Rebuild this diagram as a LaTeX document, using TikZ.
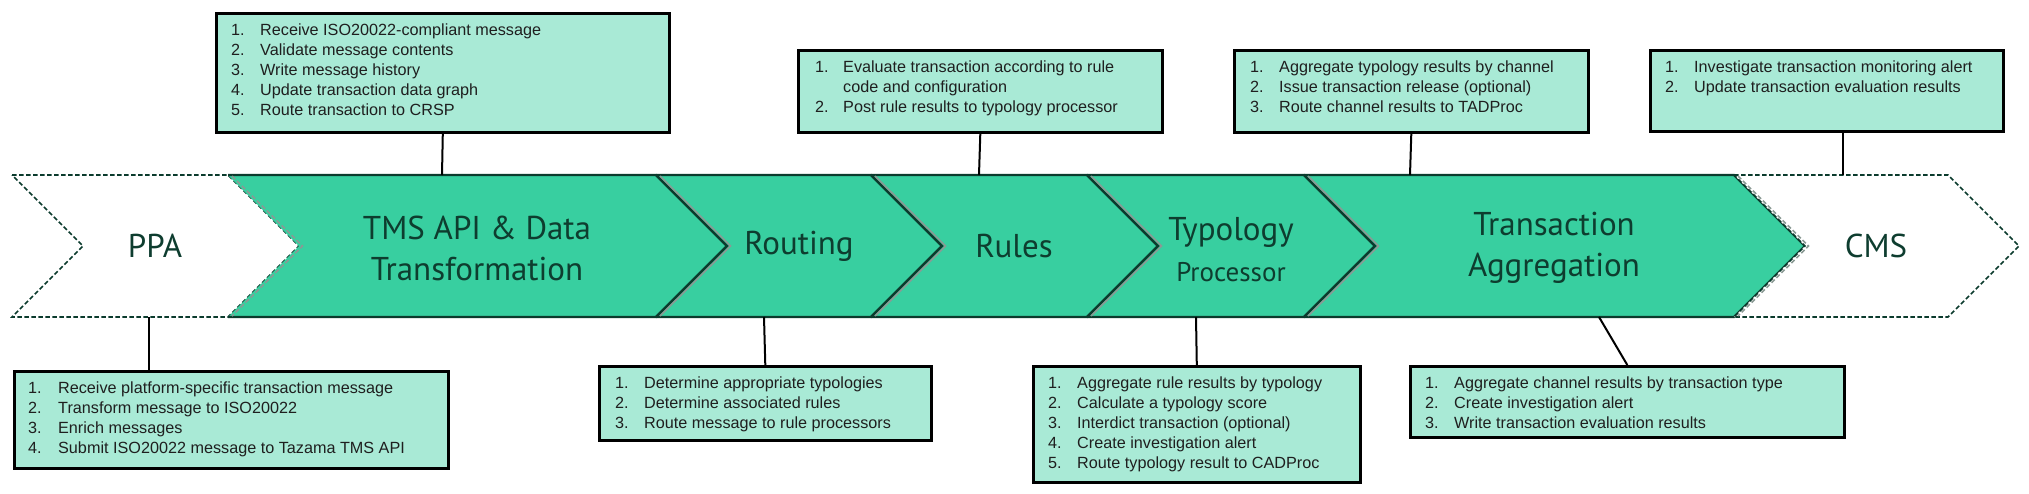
\documentclass[tikz,border=0pt]{standalone}
\usepackage{fontspec}
\setmainfont{Liberation Sans}
\newfontfamily\chevfont{PT Sans}
\definecolor{chevfill}{HTML}{38CFA0}
\definecolor{chevline}{HTML}{0B3B2D}
\definecolor{chevtext}{HTML}{0E3D2F}
\definecolor{boxfill}{HTML}{A9EAD6}
\definecolor{bevel}{HTML}{8A9A94}
\begin{document}
\begin{tikzpicture}[x=1pt,y=-1pt,
  chev/.style={fill=chevfill, draw=none},
  chevedge/.style={draw=chevline, line width=2.2pt, line join=miter},
  beveledge/.style={draw=bevel, line width=1.6pt},
  ghost/.style={fill=white, draw=chevline, line width=1.6pt, dash pattern=on 4.5pt off 2.5pt},
  infobox/.style={draw=black, line width=2.6pt, fill=boxfill, rectangle, inner sep=0pt, anchor=north west},
  listtext/.style={anchor=base west, inner sep=0pt, text=black!88, font=\fontsize{16.2}{20}\selectfont},
  ctitle/.style={text=chevtext, align=center, inner sep=0pt, font=\chevfont\fontsize{33}{41}\selectfont},
  link/.style={draw=black, line width=2pt}]
\useasboundingbox (0,0) rectangle (2029,493);
\fill[white] (0,0) rectangle (2029,493);

% PPA (dashed, white)
\draw[ghost] (12,175) -- (228,175) -- (299,246) -- (228,317) -- (12,317) -- (83,246) -- cycle;

% green chevrons
\foreach \L/\R [count=\i] in {228/656, 656/871, 871/1087, 1087/1304, 1304/1734}{
  \fill[chev] (\L,175) -- (\R,175) -- (\R+71,246) -- (\R,317) -- (\L,317) -- (\L+71,246) -- cycle;
}
\foreach \L/\R [count=\i] in {228/656, 656/871, 871/1087, 1087/1304, 1304/1734}{
  \draw[chevedge] (\L,175) -- (\R,175) -- (\R+71,246) -- (\R,317) -- (\L,317);
}
\foreach \L in {656, 871, 1087, 1304}{
  \draw[chevedge] (\L,175) -- (\L+71,246) -- (\L,317);
  \draw[beveledge] (\L+4,176) -- (\L+74.5,246) -- (\L+4,316);
}
\draw[beveledge, dash pattern=on 4.5pt off 2.5pt] (232,176) -- (302.5,246) -- (232,316);

% CMS (dashed, white)
\draw[ghost] (1734,175) -- (1948,175) -- (2019,246) -- (1948,317) -- (1734,317) -- (1805,246) -- cycle;
\draw[beveledge, dash pattern=on 4.5pt off 2.5pt] (1738,176) -- (1808.5,246) -- (1738,316);

% chevron titles
\node[ctitle] (nPPA) at (155,246) {PPA};
\node[ctitle] (nTMS) at (477,248) {TMS API \& Data\\Transformation};
\node[ctitle] (nRouting) at (799,246) {Routing};
\node[ctitle] (nRules) at (1014,246) {Rules};
\node[ctitle] (nTypology) at (1231,250) {Typology\\{\fontsize{27}{36}\selectfont Processor}};
\node[ctitle] (nTA) at (1554,248) {Transaction\\Aggregation};
\node[ctitle] (nCMS) at (1876,246) {CMS};

% info boxes
\node[infobox, minimum width=453pt, minimum height=119pt] (bTMS) at (215,12) {};
\node[infobox, minimum width=364pt, minimum height=82pt] (bRules) at (797,49) {};
\node[infobox, minimum width=354pt, minimum height=82pt] (bTAtop) at (1233,49) {};
\node[infobox, minimum width=353pt, minimum height=81pt] (bCMS) at (1649,49) {};
\node[infobox, minimum width=434pt, minimum height=97pt] (bPPA) at (13,370) {};
\node[infobox, minimum width=332pt, minimum height=74pt] (bRouting) at (598,365) {};
\node[infobox, minimum width=327pt, minimum height=116pt] (bTypology) at (1032,365) {};
\node[infobox, minimum width=434pt, minimum height=71pt] (bTAbot) at (1409,365) {};

% list texts
\node[listtext] (lTMS) at (231,35) {\begin{tabular}[t]{@{}p{29pt}@{}l@{}}
1. & Receive ISO20022-compliant message\\
2. & Validate message contents\\
3. & Write message history\\
4. & Update transaction data graph\\
5. & Route transaction to CRSP
\end{tabular}};
\node[listtext] (lRules) at (815,72) {\begin{tabular}[t]{@{}p{28pt}@{}l@{}}
1. & Evaluate transaction according to rule\\
 & code and configuration\\
2. & Post rule results to typology processor
\end{tabular}};
\node[listtext] (lTAtop) at (1250,72) {\begin{tabular}[t]{@{}p{29pt}@{}l@{}}
1. & Aggregate typology results by channel\\
2. & Issue transaction release (optional)\\
3. & Route channel results to TADProc
\end{tabular}};
\node[listtext] (lCMS) at (1665,72) {\begin{tabular}[t]{@{}p{29pt}@{}l@{}}
1. & Investigate transaction monitoring alert\\
2. & Update transaction evaluation results
\end{tabular}};
\node[listtext] (lPPA) at (28,393) {\begin{tabular}[t]{@{}p{30pt}@{}l@{}}
1. & Receive platform-specific transaction message\\
2. & Transform message to ISO20022\\
3. & Enrich messages\\
4. & Submit ISO20022 message to Tazama TMS API
\end{tabular}};
\node[listtext] (lRouting) at (615,388) {\begin{tabular}[t]{@{}p{29pt}@{}l@{}}
1. & Determine appropriate typologies\\
2. & Determine associated rules\\
3. & Route message to rule processors
\end{tabular}};
\node[listtext] (lTypology) at (1048,388) {\begin{tabular}[t]{@{}p{29pt}@{}l@{}}
1. & Aggregate rule results by typology\\
2. & Calculate a typology score\\
3. & Interdict transaction (optional)\\
4. & Create investigation alert\\
5. & Route typology result to CADProc
\end{tabular}};
\node[listtext] (lTAbot) at (1425,388) {\begin{tabular}[t]{@{}p{29pt}@{}l@{}}
1. & Aggregate channel results by transaction type\\
2. & Create investigation alert\\
3. & Write transaction evaluation results
\end{tabular}};

% connector end points on the band
\coordinate (cTMS) at (442,175);
\coordinate (cRules) at (979,175);
\coordinate (cTAtop) at (1410,175);
\coordinate (cCMS) at (1843,175);
\coordinate (cPPA) at (149,317);
\coordinate (cRouting) at (764,317);
\coordinate (cTypology) at (1196,317);
\coordinate (cTAbot) at (1599,317);

% connectors
\draw[link] (bTMS.south) -- (cTMS);
\draw[link] (bRules.south) -- (cRules);
\draw[link] (bTAtop.south) -- (cTAtop);
\draw[link] (cCMS |- bCMS.south) -- (cCMS);
\draw[link] (cPPA) -- (cPPA |- bPPA.north);
\draw[link] (cRouting) -- (bRouting.north);
\draw[link] (cTypology) -- (bTypology.north);
\draw[link] (cTAbot) -- (bTAbot.north);
\end{tikzpicture}
\end{document}
